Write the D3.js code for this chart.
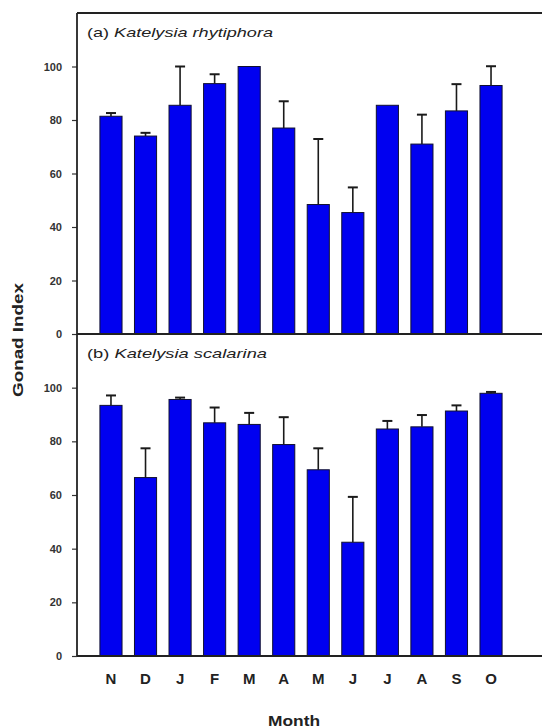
<!DOCTYPE html>
<html>
<head>
<meta charset="utf-8">
<script src="https://cdn.jsdelivr.net/npm/d3@7"></script>
<style>
  html, body { margin: 0; padding: 0; background: #fff; }
  svg { display: block; }
</style>
</head>
<body>
<svg id="chart" width="542" height="728"></svg>
<script>
// ---- data ----
const months = ["N", "D", "J", "F", "M", "A", "M", "J", "J", "A", "S", "O"];
const rhytiphoraMean = [81.4, 74.0, 85.5, 93.6, 100, 77.0, 48.4, 45.4, 85.5, 71.0, 83.4, 92.9];
const rhytiphoraErr  = [1.2, 1.2, 14.5, 3.5, 0, 10.0, 24.5, 9.4, 0, 11.0, 10.0, 7.2];
const scalarinaMean  = [93.4, 66.5, 95.6, 86.9, 86.3, 78.8, 69.4, 42.4, 84.6, 85.4, 91.3, 97.9];
const scalarinaErr   = [3.7, 10.9, 0.7, 5.7, 4.3, 10.2, 8.0, 16.9, 3.0, 4.4, 2.1, 0.5];
const yTicks = [0, 20, 40, 60, 80, 100];
const panelPrefix = ["(a) ", "(b) "];
const panelSpecies = ["Katelysia rhytiphora", "Katelysia scalarina"];
const yTitle = "Gonad Index";
const xTitle = "Month";

// ---- layout ----
const W = 542;
const axisX = 77;
const panelLabelLen = [186, 180];
const panels = [
  { top: 13, bottom: 334, mean: rhytiphoraMean, err: rhytiphoraErr },
  { top: 334, bottom: 656, mean: scalarinaMean, err: scalarinaErr }
];
const barColor = "#0000f0";
const inkColor = "#1a1a1a";

const svg = d3.select("#chart");

const x = d3.scaleBand()
  .domain(d3.range(months.length))
  .range([93.7, 508.3])
  .paddingInner(0.36)
  .paddingOuter(0.18);

panels.forEach((p, pi) => {
  const y = d3.scaleLinear().domain([0, 120]).range([p.bottom, p.top]);
  const g = svg.append("g");

  // bars
  g.selectAll("rect.bar")
    .data(p.mean)
    .join("rect")
    .attr("class", "bar")
    .attr("x", (d, i) => x(i))
    .attr("y", d => y(d))
    .attr("width", x.bandwidth())
    .attr("height", d => y(0) - y(d))
    .attr("fill", barColor)
    .attr("stroke", "#101030")
    .attr("stroke-width", 1);

  // error bars (upper only)
  const eb = g.selectAll("g.err")
    .data(p.mean.map((m, i) => ({ m, e: p.err[i], i })).filter(d => d.e > 0))
    .join("g")
    .attr("class", "err");
  eb.append("line")
    .attr("x1", d => x(d.i) + x.bandwidth() / 2)
    .attr("x2", d => x(d.i) + x.bandwidth() / 2)
    .attr("y1", d => y(d.m))
    .attr("y2", d => y(d.m + d.e))
    .attr("stroke", inkColor)
    .attr("stroke-width", 1.6);
  eb.append("line")
    .attr("x1", d => x(d.i) + x.bandwidth() / 2 - 5)
    .attr("x2", d => x(d.i) + x.bandwidth() / 2 + 5)
    .attr("y1", d => y(d.m + d.e))
    .attr("y2", d => y(d.m + d.e))
    .attr("stroke", inkColor)
    .attr("stroke-width", 2);

  // y axis
  const yAxis = d3.axisLeft(y).tickValues(yTicks).tickSize(5).tickPadding(10);
  const ya = g.append("g").attr("transform", `translate(${axisX},0)`).call(yAxis);
  ya.select(".domain").remove();
  ya.selectAll(".tick line").attr("stroke", "#333").attr("stroke-width", 1.2);
  ya.selectAll(".tick text")
    .attr("font-family", "'Liberation Sans', Arial, sans-serif")
    .attr("font-size", 11)
    .attr("font-weight", "bold")
    .attr("fill", "#333");

  // baseline
  g.append("line")
    .attr("x1", axisX).attr("x2", W)
    .attr("y1", y(0)).attr("y2", y(0))
    .attr("stroke", "#222").attr("stroke-width", 1.8);

  // panel label
  const t = g.append("text")
    .attr("x", 87)
    .attr("y", p.top + 24)
    .attr("font-family", "'Liberation Sans', Arial, sans-serif")
    .attr("font-size", 13)
    .attr("fill", "#222")
    .attr("textLength", panelLabelLen[pi])
    .attr("lengthAdjust", "spacingAndGlyphs");
  t.append("tspan").text(panelPrefix[pi]);
  t.append("tspan").attr("font-style", "italic").text(panelSpecies[pi]);
});

// top border of the frame
svg.append("line")
  .attr("x1", axisX).attr("x2", W)
  .attr("y1", panels[0].top).attr("y2", panels[0].top)
  .attr("stroke", "#222").attr("stroke-width", 1.8);

// left axis line
svg.append("line")
  .attr("x1", axisX).attr("x2", axisX)
  .attr("y1", panels[0].top).attr("y2", panels[1].bottom)
  .attr("stroke", "#222").attr("stroke-width", 1.8);

// month labels
svg.append("g")
  .selectAll("text")
  .data(months)
  .join("text")
  .attr("x", (d, i) => x(i) + x.bandwidth() / 2)
  .attr("y", 684)
  .attr("text-anchor", "middle")
  .attr("font-family", "'Liberation Sans', Arial, sans-serif")
  .attr("font-size", 15)
  .attr("font-weight", "bold")
  .attr("fill", "#222")
  .text(d => d);

// x title
svg.append("text")
  .attr("x", 294)
  .attr("y", 726)
  .attr("text-anchor", "middle")
  .attr("font-family", "'Liberation Sans', Arial, sans-serif")
  .attr("font-size", 15)
  .attr("font-weight", "bold")
  .attr("fill", "#222")
  .attr("textLength", 52)
  .attr("lengthAdjust", "spacingAndGlyphs")
  .text(xTitle);

// y title
svg.append("text")
  .attr("transform", "translate(23,340) rotate(-90)")
  .attr("text-anchor", "middle")
  .attr("font-family", "'Liberation Sans', Arial, sans-serif")
  .attr("font-size", 15)
  .attr("font-weight", "bold")
  .attr("fill", "#222")
  .attr("textLength", 114)
  .attr("lengthAdjust", "spacingAndGlyphs")
  .text(yTitle);
</script>
</body>
</html>
